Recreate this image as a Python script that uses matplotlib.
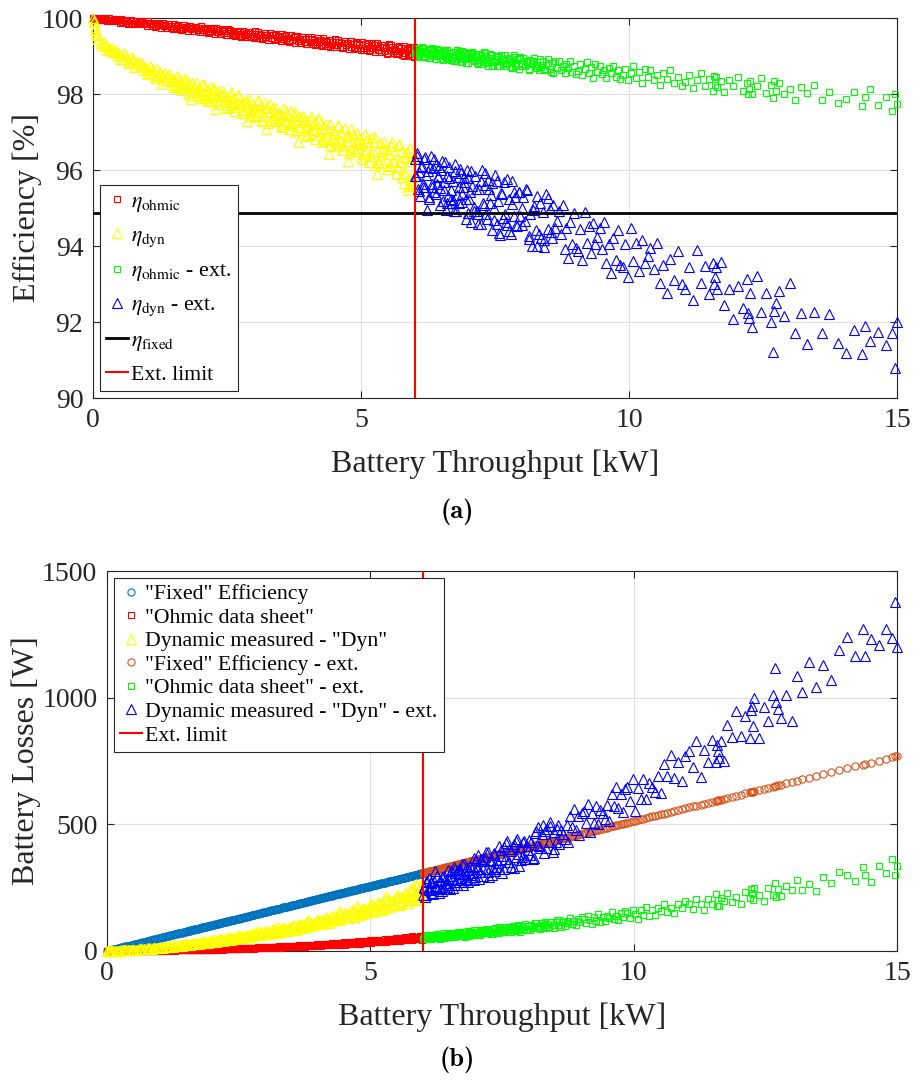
import os
import numpy as np
import matplotlib
matplotlib.use('Agg')
import matplotlib.pyplot as plt
from matplotlib.font_manager import FontProperties

plt.rcParams['font.family'] = ['Liberation Serif', 'DejaVu Serif']
plt.rcParams['mathtext.fontset'] = 'stix'

# ---------------- data ----------------
ETA_FIXED = 94.87      # fixed efficiency [%]
EXT_LIMIT = 6.0        # extension limit [kW]

# throughput samples below the limit, in units of 10 W (hundredths of kW)
X_MAIN = [
    0, 1, 2, 3, 4, 6, 8, 10, 12, 15,
    17, 20, 22, 25, 27, 30, 32, 35, 37, 40,
    42, 45, 47, 50, 52, 55, 57, 60, 62, 65,
    67, 70, 72, 75, 77, 80, 82, 85, 87, 90,
    92, 95, 97, 100, 102, 105, 107, 110, 112, 115,
    117, 120, 122, 125, 127, 130, 132, 135, 137, 140,
    142, 145, 147, 150, 152, 155, 157, 160, 162, 165,
    167, 170, 172, 175, 177, 180, 182, 185, 187, 190,
    192, 195, 197, 200, 202, 205, 207, 210, 212, 215,
    217, 220, 222, 225, 227, 230, 232, 235, 237, 240,
    242, 245, 247, 250, 252, 255, 257, 260, 262, 265,
    267, 270, 272, 275, 277, 280, 282, 285, 287, 290,
    292, 295, 297, 300, 302, 305, 307, 310, 312, 315,
    317, 320, 322, 325, 327, 330, 332, 335, 337, 340,
    342, 345, 347, 350, 352, 355, 357, 360, 362, 365,
    367, 370, 372, 375, 377, 380, 382, 385, 387, 390,
    392, 395, 397, 400, 402, 405, 407, 410, 412, 415,
    417, 420, 422, 425, 427, 430, 432, 435, 437, 440,
    442, 445, 447, 450, 452, 455, 457, 460, 462, 465,
    467, 470, 472, 475, 477, 480, 482, 485, 487, 490,
    492, 495, 497, 500, 502, 505, 507, 510, 512, 515,
    517, 520, 522, 525, 527, 530, 532, 535, 537, 540,
    542, 545, 547, 550, 552, 555, 557, 560, 562, 565,
    567, 570, 572, 575, 577, 580, 582, 585, 587, 590,
    592, 595, 597, 599, 598, 596, 593, 588, 585, 580,
    151, 158, 166, 173, 181, 188, 196, 203, 211, 218,
    226, 233, 241, 248, 256, 263, 271, 278, 286, 293,
    301, 308, 316, 323, 331, 338, 346, 353, 361, 368,
    376, 383, 391, 398, 406, 413, 421, 428, 436, 443,
    451, 458, 466, 473, 481, 488, 496, 503, 511, 518,
    526, 533, 541, 548, 556, 563, 571, 578, 586, 594,
]

ETA_OHMIC = [
    100.00, 99.98, 99.99, 99.96, 99.99, 99.98, 99.99, 99.96, 99.98, 99.94,
    99.95, 100.00, 99.96, 99.98, 99.91, 99.99, 99.93, 99.96, 99.91, 99.97,
    99.97, 99.91, 99.94, 99.88, 99.97, 99.90, 99.94, 99.88, 99.91, 99.85,
    99.87, 99.94, 99.88, 99.91, 99.83, 99.93, 99.86, 99.89, 99.83, 99.90,
    99.91, 99.83, 99.87, 99.80, 99.91, 99.83, 99.87, 99.80, 99.84, 99.77,
    99.79, 99.87, 99.81, 99.84, 99.75, 99.87, 99.78, 99.82, 99.75, 99.83,
    99.84, 99.75, 99.80, 99.72, 99.84, 99.75, 99.80, 99.72, 99.77, 99.69,
    99.71, 99.81, 99.73, 99.77, 99.67, 99.80, 99.70, 99.75, 99.67, 99.76,
    99.77, 99.68, 99.73, 99.64, 99.78, 99.68, 99.73, 99.64, 99.70, 99.61,
    99.63, 99.74, 99.66, 99.70, 99.59, 99.73, 99.63, 99.68, 99.59, 99.69,
    99.70, 99.60, 99.65, 99.56, 99.71, 99.60, 99.66, 99.56, 99.62, 99.53,
    99.56, 99.67, 99.58, 99.63, 99.51, 99.67, 99.55, 99.61, 99.51, 99.63,
    99.63, 99.52, 99.58, 99.48, 99.65, 99.53, 99.59, 99.48, 99.55, 99.45,
    99.48, 99.60, 99.51, 99.56, 99.43, 99.60, 99.48, 99.54, 99.43, 99.56,
    99.57, 99.44, 99.51, 99.40, 99.58, 99.45, 99.52, 99.40, 99.48, 99.37,
    99.40, 99.54, 99.43, 99.49, 99.35, 99.53, 99.40, 99.46, 99.35, 99.49,
    99.50, 99.37, 99.44, 99.32, 99.51, 99.37, 99.46, 99.32, 99.41, 99.29,
    99.32, 99.47, 99.36, 99.42, 99.26, 99.47, 99.32, 99.39, 99.27, 99.42,
    99.43, 99.29, 99.37, 99.24, 99.45, 99.30, 99.38, 99.25, 99.33, 99.20,
    99.24, 99.40, 99.28, 99.35, 99.18, 99.40, 99.25, 99.32, 99.19, 99.35,
    99.36, 99.21, 99.29, 99.16, 99.38, 99.22, 99.32, 99.17, 99.26, 99.12,
    99.17, 99.34, 99.21, 99.28, 99.10, 99.33, 99.17, 99.25, 99.11, 99.28,
    99.29, 99.13, 99.22, 99.08, 99.32, 99.15, 99.25, 99.09, 99.19, 99.04,
    99.09, 99.27, 99.13, 99.21, 99.02, 99.27, 99.09, 99.18, 99.03, 99.21,
    99.23, 99.01, 99.17, 98.98, 99.25, 99.06, 99.15, 99.03, 99.22, 99.00,
    99.74, 99.82, 99.69, 99.77, 99.79, 99.67, 99.74, 99.63, 99.74, 99.66,
    99.73, 99.62, 99.67, 99.56, 99.69, 99.59, 99.64, 99.53, 99.59, 99.49,
    99.51, 99.62, 99.45, 99.56, 99.60, 99.44, 99.53, 99.39, 99.54, 99.43,
    99.53, 99.39, 99.45, 99.32, 99.49, 99.36, 99.43, 99.29, 99.37, 99.25,
    99.28, 99.42, 99.21, 99.35, 99.39, 99.21, 99.32, 99.15, 99.33, 99.20,
    99.33, 99.15, 99.24, 99.06, 99.29, 99.13, 99.23, 99.03, 99.16, 98.99,
]

ETA_DYN = [
    100.00, 99.93, 99.89, 99.76, 99.72, 99.57, 99.56, 99.45, 99.44, 99.33,
    99.30, 99.37, 99.27, 99.30, 99.15, 99.22, 99.12, 99.22, 99.11, 99.14,
    99.16, 99.03, 99.08, 98.93, 99.02, 98.93, 99.07, 98.93, 98.99, 98.81,
    98.85, 98.97, 98.85, 98.91, 98.71, 98.83, 98.70, 98.84, 98.71, 98.74,
    98.81, 98.64, 98.72, 98.53, 98.65, 98.54, 98.74, 98.56, 98.65, 98.43,
    98.48, 98.66, 98.51, 98.58, 98.27, 98.51, 98.36, 98.54, 98.37, 98.44,
    98.53, 98.33, 98.43, 98.23, 98.36, 98.22, 98.47, 98.27, 98.37, 98.11,
    98.17, 98.40, 98.21, 98.32, 98.02, 98.24, 97.88, 98.29, 98.08, 98.17,
    98.28, 98.04, 98.17, 97.90, 98.09, 97.94, 98.25, 97.99, 98.12, 97.81,
    97.90, 98.18, 97.96, 98.10, 97.61, 98.00, 97.78, 98.07, 97.83, 97.94,
    98.07, 97.80, 97.95, 97.65, 97.86, 97.70, 98.04, 97.76, 97.90, 97.56,
    97.66, 97.97, 97.73, 97.88, 97.50, 97.78, 97.54, 97.85, 97.28, 97.72,
    97.86, 97.57, 97.73, 97.40, 97.64, 97.45, 97.84, 97.53, 97.70, 97.30,
    97.42, 97.76, 97.07, 97.66, 97.25, 97.56, 97.31, 97.64, 97.36, 97.49,
    97.64, 97.34, 97.51, 97.17, 97.42, 97.22, 97.63, 97.30, 97.47, 97.07,
    97.19, 97.55, 97.27, 97.45, 97.01, 97.34, 96.75, 97.43, 97.12, 97.27,
    97.43, 97.11, 97.29, 96.92, 97.19, 96.97, 97.41, 97.06, 97.25, 96.81,
    96.93, 97.34, 97.03, 97.23, 96.74, 97.11, 96.80, 97.21, 96.87, 96.42,
    97.21, 96.86, 97.06, 96.64, 96.94, 96.70, 97.19, 96.80, 97.01, 96.53,
    96.67, 97.11, 96.77, 96.24, 96.44, 96.86, 96.52, 96.96, 96.59, 96.77,
    96.97, 96.58, 96.81, 96.34, 96.68, 96.41, 96.96, 96.53, 96.77, 96.22,
    96.38, 96.87, 96.49, 96.74, 96.13, 95.89, 96.22, 96.72, 96.30, 96.50,
    96.74, 96.29, 96.56, 96.02, 96.41, 96.11, 96.74, 96.25, 96.52, 95.90,
    96.08, 96.65, 96.22, 96.49, 95.81, 96.34, 95.91, 96.47, 95.47, 96.24,
    96.59, 95.83, 96.32, 95.66, 96.46, 95.62, 96.24, 95.57, 96.48, 95.66,
    98.19, 98.43, 98.21, 98.40, 97.98, 98.22, 97.98, 98.26, 97.85, 98.02,
    98.16, 97.75, 97.98, 97.64, 97.98, 97.75, 97.98, 97.58, 97.79, 97.41,
    97.52, 97.81, 97.31, 97.62, 97.74, 97.28, 97.47, 97.13, 97.54, 97.24,
    97.53, 97.05, 97.33, 96.90, 97.32, 97.05, 97.33, 96.81, 97.07, 96.65,
    96.76, 97.15, 96.53, 96.91, 97.07, 96.49, 96.72, 96.29, 96.84, 96.45,
    96.86, 96.18, 96.59, 96.02, 96.64, 96.22, 96.68, 95.92, 96.31, 95.73,
]

# throughput samples above the limit (extension), units of 10 W
X_EXT = [
    600, 602, 604, 606, 609, 611, 613, 616, 618, 620,
    623, 625, 627, 630, 632, 634, 637, 639, 641, 644,
    646, 648, 651, 653, 655, 658, 660, 662, 665, 667,
    669, 672, 674, 676, 679, 681, 683, 686, 688, 690,
    693, 695, 697, 700, 703, 705, 708, 711, 713, 716,
    718, 721, 724, 726, 729, 732, 734, 737, 740, 742,
    745, 748, 750, 753, 756, 759, 762, 764, 767, 770,
    773, 776, 779, 782, 785, 788, 791, 794, 797, 800,
    803, 806, 810, 813, 816, 819, 823, 826, 829, 832,
    836, 839, 842, 846, 849, 852, 856, 859, 862, 866,
    869, 873, 876, 880, 883, 887, 890, 894, 897, 901,
    905, 909, 913, 917, 921, 925, 929, 933, 937, 941,
    945, 949, 953, 958, 962, 966, 970, 975, 979, 984,
    988, 993, 998, 1003, 1008, 1013, 1018, 1024, 1029, 1035,
    1040, 1046, 1052, 1058, 1064, 1071, 1077, 1084, 1091, 1098,
    1105, 1112, 1119, 1127, 1134, 1142, 1149, 1156, 1158, 1160,
    1162, 1165, 1171, 1178, 1186, 1194, 1203, 1212, 1220, 1222,
    1224, 1226, 1229, 1238, 1247, 1256, 1265, 1268, 1271, 1274,
    1280, 1290, 1300, 1310, 1320, 1333, 1346, 1360, 1374, 1390,
    1405, 1420, 1435, 1440, 1450, 1465, 1480, 1490, 1497, 1500,
    601, 605, 608, 612, 615, 619, 622, 626, 629, 633,
    636, 640, 643, 647, 650, 654, 657, 661, 664, 668,
    671, 675, 678, 682, 685, 689, 692, 696, 699, 702,
    706, 710, 714, 719, 723, 727, 731, 735, 739, 744,
    749, 754, 758, 763, 768, 772, 777, 781, 786, 790,
    795, 801, 808, 814, 821, 828, 834, 841, 848, 855,
]

ETA_OHMIC_EXT = [
    99.22, 99.06, 99.14, 98.97, 99.18, 99.09, 99.23, 99.00, 99.14, 98.97,
    99.04, 99.17, 98.96, 99.09, 99.22, 98.99, 99.12, 98.91, 99.18, 99.02,
    99.16, 98.99, 99.07, 98.90, 99.12, 99.02, 99.17, 98.93, 99.07, 98.90,
    98.97, 99.11, 98.88, 99.02, 99.16, 98.92, 99.06, 98.83, 99.12, 98.95,
    99.10, 98.91, 99.01, 98.82, 99.05, 98.95, 99.11, 98.86, 99.00, 98.82,
    98.89, 99.04, 98.80, 98.95, 99.10, 98.84, 98.99, 98.75, 99.05, 98.88,
    99.02, 98.83, 98.93, 98.74, 98.97, 98.87, 99.03, 98.78, 98.92, 98.73,
    98.81, 98.96, 98.72, 98.87, 99.02, 98.75, 98.91, 98.66, 98.97, 98.79,
    98.95, 98.74, 98.85, 98.64, 98.89, 98.78, 98.95, 98.68, 98.84, 98.63,
    98.72, 98.88, 98.62, 98.77, 98.93, 98.66, 98.81, 98.56, 98.88, 98.69,
    98.86, 98.64, 98.75, 98.54, 98.80, 98.68, 98.86, 98.57, 98.74, 98.52,
    98.61, 98.78, 98.50, 98.67, 98.85, 98.54, 98.71, 98.43, 98.78, 98.58,
    98.75, 98.53, 98.64, 98.41, 98.69, 98.56, 98.75, 98.45, 98.62, 98.39,
    98.49, 98.67, 98.37, 98.55, 98.73, 98.41, 98.59, 98.29, 98.66, 98.44,
    98.63, 98.37, 98.50, 98.25, 98.55, 98.40, 98.62, 98.28, 98.46, 98.21,
    98.31, 98.50, 98.17, 98.37, 98.56, 98.21, 98.40, 98.07, 98.48, 98.25,
    98.46, 98.19, 98.33, 98.05, 98.38, 98.22, 98.45, 98.07, 98.28, 98.01,
    98.13, 98.35, 97.99, 98.21, 98.42, 98.03, 98.24, 97.89, 98.33, 98.08,
    98.29, 98.00, 98.14, 97.85, 98.19, 98.02, 98.25, 97.85, 98.06, 97.76,
    97.86, 98.06, 97.69, 97.91, 98.12, 97.72, 97.92, 97.56, 98.00, 97.75,
    99.07, 99.19, 99.00, 99.14, 99.22, 99.01, 99.11, 98.95, 99.18, 99.05,
    99.17, 98.99, 99.09, 98.93, 99.11, 99.02, 99.16, 98.94, 99.07, 98.89,
    98.97, 99.11, 98.87, 99.02, 99.14, 98.91, 99.04, 98.82, 99.09, 98.94,
    99.08, 98.90, 98.99, 98.80, 99.02, 98.91, 99.08, 98.82, 98.96, 98.75,
    98.85, 99.01, 98.74, 98.91, 99.03, 98.78, 98.93, 98.68, 98.97, 98.82,
    98.96, 98.75, 98.86, 98.65, 98.88, 98.75, 98.93, 98.65, 98.81, 98.57,
]

ETA_DYN_EXT = [
    96.29, 95.83, 96.44, 95.51, 95.96, 95.31, 96.10, 95.62, 96.30, 95.54,
    94.95, 95.98, 95.25, 96.37, 95.64, 96.05, 95.43, 96.14, 95.64, 95.81,
    96.07, 95.53, 96.23, 95.18, 95.69, 94.95, 95.85, 95.32, 96.08, 95.23,
    95.14, 95.72, 94.91, 96.17, 95.35, 95.81, 95.12, 95.91, 95.36, 95.55,
    95.81, 95.24, 96.00, 94.86, 95.41, 94.63, 95.59, 95.02, 95.85, 94.93,
    94.83, 95.50, 94.58, 96.00, 95.08, 95.60, 94.84, 95.73, 95.12, 95.33,
    95.65, 94.99, 95.87, 94.57, 95.19, 94.29, 95.40, 94.75, 95.69, 94.63,
    94.56, 95.23, 94.31, 95.71, 94.79, 95.30, 94.53, 95.42, 94.80, 95.00,
    95.29, 94.67, 95.48, 94.27, 94.85, 94.01, 95.04, 94.42, 95.31, 94.32,
    94.22, 94.89, 93.97, 95.37, 94.46, 94.97, 94.20, 95.09, 94.47, 94.67,
    94.91, 94.32, 95.07, 93.93, 94.47, 93.68, 94.64, 94.06, 94.88, 93.94,
    93.88, 94.46, 93.64, 94.89, 94.07, 94.52, 93.82, 94.61, 94.05, 94.23,
    94.48, 93.93, 94.63, 93.54, 94.05, 93.28, 94.20, 93.63, 94.41, 93.50,
    93.44, 94.04, 93.18, 94.48, 93.61, 94.07, 93.34, 94.15, 93.55, 93.73,
    93.95, 93.39, 94.08, 93.02, 93.51, 92.77, 93.65, 93.10, 93.86, 92.99,
    92.86, 93.46, 92.59, 93.89, 93.02, 93.48, 92.75, 93.56, 92.99, 93.19,
    93.45, 92.88, 93.58, 92.44, 92.88, 92.07, 92.95, 92.36, 93.12, 92.23,
    92.11, 92.77, 91.86, 93.22, 92.27, 92.77, 92.00, 91.20, 92.28, 92.50,
    92.81, 92.16, 93.02, 91.71, 92.25, 91.43, 92.27, 91.70, 92.21, 91.45,
    91.18, 91.80, 91.15, 91.90, 91.50, 91.75, 91.40, 91.70, 90.80, 92.00,
    95.84, 96.37, 95.45, 96.08, 95.56, 96.34, 95.87, 95.30, 96.08, 95.55,
    96.28, 95.36, 95.84, 95.07, 96.00, 95.47, 96.20, 95.12, 95.80, 95.47,
    95.20, 95.98, 94.91, 95.54, 96.02, 95.15, 95.68, 94.71, 95.80, 95.24,
    95.97, 94.91, 95.49, 94.57, 95.71, 95.14, 95.92, 94.71, 95.49, 94.42,
    94.69, 95.72, 94.35, 95.37, 94.84, 95.77, 94.39, 95.11, 95.43, 94.56,
    95.43, 94.54, 95.51, 94.18, 94.95, 94.01, 95.13, 94.15, 95.26, 94.38,
]

# ---------------- derived arrays ----------------
n1 = min(len(X_MAIN), len(ETA_OHMIC), len(ETA_DYN))
x_m = np.array(X_MAIN[:n1]) / 100.0
eo_m = np.array(ETA_OHMIC[:n1])
ed_m = np.array(ETA_DYN[:n1])
n2 = min(len(X_EXT), len(ETA_OHMIC_EXT), len(ETA_DYN_EXT))
x_e = np.array(X_EXT[:n2]) / 100.0
eo_e = np.array(ETA_OHMIC_EXT[:n2])
ed_e = np.array(ETA_DYN_EXT[:n2])


def losses(x_kw, eta):
    return x_kw * 1000.0 * (1.0 - np.asarray(eta) / 100.0)


# ---------------- styling ----------------
RED = (1, 0, 0)
YEL = (1, 1, 0)
GRN = (0, 1, 0)
BLU = (0, 0, 1)
MBLUE = '#0072BD'
MORANGE = '#D95319'
TXT = '#262626'

fig = plt.figure(figsize=(9.14, 10.82), dpi=100)

common = dict(linestyle='none', mfc='none', mew=0.8, clip_on=False)
SQ = 4.0
TR = 6.5
CI = 5.2


def style_axes(ax):
    for s in ax.spines.values():
        s.set_color(TXT)
        s.set_linewidth(0.8)
    ax.tick_params(direction='in', top=True, right=True, length=5, width=0.8,
                   labelsize=20, colors=TXT, pad=7)
    ax.grid(True, color='#e0e0e0', lw=0.8)
    ax.set_axisbelow(True)


# ---- (a) efficiency ----
ax1 = fig.add_axes([93 / 914, 1 - 398 / 1082, 804 / 914, 380 / 1082])
h1, = ax1.plot(x_m, eo_m, 's', mec=RED, ms=SQ, **common, zorder=3)
h2, = ax1.plot(x_m, ed_m, '^', mec=YEL, ms=TR, **common, zorder=3)
h3, = ax1.plot(x_e, eo_e, 's', mec=GRN, ms=SQ, **common, zorder=3)
h4, = ax1.plot(x_e, ed_e, '^', mec=BLU, ms=TR, **common, zorder=3)
h5 = ax1.axhline(ETA_FIXED, color='k', lw=2.0, zorder=4)
h6 = ax1.axvline(EXT_LIMIT, color=RED, lw=1.5, zorder=5)
ax1.set_xlim(0, 15)
ax1.set_ylim(90, 100)
ax1.set_xticks([0, 5, 10, 15])
ax1.set_yticks([90, 92, 94, 96, 98, 100])
style_axes(ax1)
ax1.set_xlabel('Battery Throughput [kW]', fontsize=23, color=TXT, labelpad=12)
ax1.set_ylabel('Efficiency [%]', fontsize=23, color=TXT, labelpad=0)
leg1 = ax1.legend([h1, h2, h3, h4, h5, h6],
                  [r'$\eta_{\mathrm{ohmic}}$', r'$\eta_{\mathrm{dyn}}$',
                   r'$\eta_{\mathrm{ohmic}}$ - ext.', r'$\eta_{\mathrm{dyn}}$ - ext.',
                   r'$\eta_{\mathrm{fixed}}$', 'Ext. limit'],
                  loc='lower left', fontsize=15.7, handlelength=1.0,
                  handletextpad=0.15, borderpad=0.3, labelspacing=0.55,
                  borderaxespad=0.3, fancybox=False, framealpha=1,
                  edgecolor=TXT)
leg1.get_frame().set_linewidth(0.8)

# ---- (b) losses ----
ax2 = fig.add_axes([107 / 914, 1 - 951 / 1082, 790 / 914, 380 / 1082])
g1, = ax2.plot(x_m, losses(x_m, ETA_FIXED), 'o', mec=MBLUE, ms=CI, **common, zorder=3)
g2, = ax2.plot(x_m, losses(x_m, eo_m), 's', mec=RED, ms=SQ, **common, zorder=3)
g3, = ax2.plot(x_m, losses(x_m, ed_m), '^', mec=YEL, ms=TR, **common, zorder=3)
g4, = ax2.plot(x_e, losses(x_e, ETA_FIXED), 'o', mec=MORANGE, ms=CI, **common, zorder=3)
g5, = ax2.plot(x_e, losses(x_e, eo_e), 's', mec=GRN, ms=SQ, **common, zorder=3)
g6, = ax2.plot(x_e, losses(x_e, ed_e), '^', mec=BLU, ms=TR, **common, zorder=3)
g7 = ax2.axvline(EXT_LIMIT, color=RED, lw=1.5, zorder=5)
ax2.set_xlim(0, 15)
ax2.set_ylim(0, 1500)
ax2.set_xticks([0, 5, 10, 15])
ax2.set_yticks([0, 500, 1000, 1500])
style_axes(ax2)
ax2.set_xlabel('Battery Throughput [kW]', fontsize=23, color=TXT, labelpad=12)
ax2.set_ylabel('Battery Losses [W]', fontsize=23, color=TXT, labelpad=1)
leg2 = ax2.legend([g1, g2, g3, g4, g5, g6, g7],
                  ['"Fixed" Efficiency', '"Ohmic data sheet"',
                   'Dynamic measured - "Dyn"', '"Fixed" Efficiency - ext.',
                   '"Ohmic data sheet" - ext.', 'Dynamic measured - "Dyn" - ext.',
                   'Ext. limit'],
                  loc='upper left', fontsize=15.7, handlelength=1.0,
                  handletextpad=0.15, borderpad=0.3, labelspacing=0.15,
                  borderaxespad=0.3, fancybox=False, framealpha=1,
                  edgecolor=TXT)
leg2.get_frame().set_linewidth(0.8)

cmb = os.path.join(matplotlib.get_data_path(), 'fonts', 'ttf', 'cmb10.ttf')
cap_font = FontProperties(fname=cmb, size=19)
fig.text(0.5, 1 - 512 / 1082, '(a)', fontproperties=cap_font,
         ha='center', va='center', color='k')
fig.text(0.5, 1 - 1060 / 1082, '(b)', fontproperties=cap_font,
         ha='center', va='center', color='k')

fig.savefig('out.png', dpi=100)
